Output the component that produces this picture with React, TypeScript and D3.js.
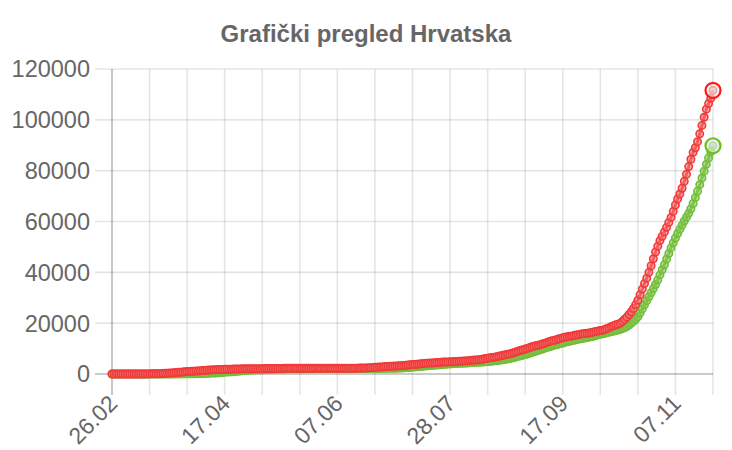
import React, { useRef, useEffect } from 'react';
import {
  select,
  scalePoint,
  scaleLinear,
  line,
  timeDay,
  timeFormat,
} from 'd3';

const title = 'Grafički pregled Hrvatska';

// one entry per day, 26.02.2020 - 24.11.2020
const startDay = new Date(2020, 1, 26);
const endDay = new Date(2020, 10, 25);

// ukupno zaraženi
const cases = [
  // feb
  3, 3, 5, 7,
  // mar
  7, 7, 9, 10, 10, 11, 12, 12, 12, 14, 19, 32, 38, 49, 57, 65, 81, 105, 128, 206, 254, 315, 382, 442, 495, 586, 657, 713, 790, 867, 963,
  // apr
  1011, 1079, 1126, 1182, 1222, 1282, 1343, 1407, 1495, 1534, 1600, 1650, 1704, 1741, 1791, 1814, 1832, 1871, 1881, 1908, 1950, 1981, 2009, 2016, 2030, 2039, 2047, 2062, 2076, 2085,
  // may
  2088, 2096, 2101, 2112, 2119, 2125, 2146, 2168, 2176, 2187, 2196, 2205, 2213, 2221, 2224, 2226, 2228, 2228, 2232, 2234, 2237, 2237, 2243, 2244, 2244, 2244, 2245, 2246, 2246, 2246, 2246,
  // jun
  2247, 2247, 2247, 2247, 2247, 2247, 2249, 2249, 2249, 2251, 2252, 2254, 2258, 2269, 2280, 2299, 2317, 2336, 2366, 2388, 2420, 2483, 2534, 2634, 2691, 2725, 2777, 2831, 2912, 2966,
  // jul
  3008, 3060, 3126, 3151, 3220, 3272, 3325, 3416, 3533, 3672, 3722, 3775, 3827, 3953, 4039, 4121, 4185, 4252, 4298, 4345, 4422, 4494, 4570, 4634, 4682, 4715, 4746, 4792, 4838, 4881, 4949,
  // aug
  4995, 5017, 5073, 5138, 5224, 5314, 5376, 5466, 5508, 5587, 5728, 5880, 6058, 6239, 6420, 6516, 6571, 6753, 6948, 7145, 7353, 7541, 7732, 7900, 8150, 8420, 8710, 9020, 9300, 9560, 9800,
  // sep
  10080, 10390, 10700, 10960, 11220, 11360, 11590, 11900, 12140, 12460, 12800, 13040, 13150, 13470, 13760, 14000, 14250, 14480, 14690, 14840, 14900, 15100, 15300, 15480, 15670, 15820, 15940, 15990, 16120, 16340,
  // oct
  16550, 16730, 16930, 17110, 17200, 17520, 17880, 18240, 18640, 19000, 19370, 19540, 20000, 20730, 21540, 22400, 23400, 24500, 25800, 27300, 29000, 31200, 33400, 35600, 37700, 40000, 42600, 45300, 48000, 50300, 52500,
  // nov
  54200, 55900, 57700, 59600, 61600, 64000, 66500, 68900, 70800, 73100, 75800, 78600, 81600, 84500, 87200, 89000, 91400, 94500, 97800, 101000, 104200, 106400, 108500, 111600,
];

// izliječeni
const recovered = [
  // feb
  0, 0, 0, 0,
  // mar
  0, 0, 0, 0, 0, 0, 0, 0, 0, 1, 1, 1, 1, 1, 1, 2, 5, 5, 5, 5, 5, 5, 5, 16, 16, 22, 32, 45, 52, 67, 71,
  // apr
  73, 84, 100, 125, 125, 131, 156, 197, 228, 300, 347, 394, 414, 496, 536, 588, 717, 798, 822, 864, 924, 1015, 1101, 1175, 1235, 1325, 1402, 1468, 1533, 1582,
  // may
  1608, 1655, 1693, 1721, 1741, 1773, 1807, 1847, 1870, 1901, 1933, 1957, 1982, 1986, 2006, 2025, 2042, 2046, 2063, 2073, 2082, 2086, 2087, 2090, 2100, 2108, 2111, 2117, 2120, 2124, 2126,
  // jun
  2129, 2135, 2138, 2140, 2141, 2142, 2143, 2143, 2144, 2146, 2148, 2151, 2152, 2154, 2155, 2156, 2156, 2157, 2157, 2161, 2163, 2165, 2169, 2174, 2179, 2186, 2193, 2198, 2210, 2227,
  // jul
  2235, 2248, 2269, 2291, 2320, 2370, 2423, 2470, 2530, 2600, 2680, 2750, 2810, 2900, 2990, 3080, 3180, 3260, 3340, 3420, 3480, 3560, 3640, 3710, 3780, 3850, 3910, 3970, 4030, 4090, 4130,
  // aug
  4170, 4200, 4240, 4290, 4340, 4400, 4460, 4520, 4570, 4620, 4680, 4740, 4810, 4880, 4960, 5050, 5140, 5240, 5340, 5460, 5600, 5760, 5930, 6110, 6300, 6500, 6720, 6950, 7180, 7420, 7650,
  // sep
  7900, 8170, 8450, 8740, 9040, 9320, 9590, 9880, 10170, 10460, 10740, 11000, 11250, 11500, 11740, 11980, 12200, 12420, 12640, 12850, 13060, 13260, 13450, 13640, 13830, 14010, 14180, 14340, 14500, 14660,
  // oct
  14900, 15150, 15400, 15650, 15850, 16050, 16250, 16450, 16650, 16850, 17050, 17300, 17550, 17850, 18200, 18700, 19300, 20000, 20700, 21500, 22500, 24000, 25600, 27200, 28800, 30400, 32000, 33600, 35200, 37000, 39000,
  // nov
  41000, 43000, 45200, 47400, 49600, 51600, 53500, 55300, 57000, 58600, 60200, 61700, 63200, 65000, 67100, 69400, 71900, 74500, 77100, 79800, 82500, 85000, 87400, 89800,
];

const yTicks = [0, 20000, 40000, 60000, 80000, 100000, 120000];

const FONT = '"Liberation Sans", Arial, Helvetica, sans-serif';

const App = () => {
  const svgRef = useRef(null);

  useEffect(() => {
    const svg = select(svgRef.current);
    svg.selectAll('*').remove();

    const fmt = timeFormat('%d.%m');
    const labels = timeDay.range(startDay, endDay).map((d) => fmt(d));

    const left = 112;
    const right = 713;
    const top = 69;
    const bottom = 374;

    const x = scalePoint().domain(labels).range([left, right]);
    const y = scaleLinear().domain([0, 120000]).range([bottom, top]);

    // title
    svg
      .append('text')
      .attr('x', 366)
      .attr('y', 42)
      .attr('text-anchor', 'middle')
      .attr('font-family', FONT)
      .attr('font-weight', 'bold')
      .attr('font-size', 24)
      .attr('fill', '#666')
      .text(title);

    // horizontal grid + y labels
    const yg = svg.append('g');
    yTicks.forEach((t) => {
      yg.append('line')
        .attr('x1', left - 17)
        .attr('x2', right)
        .attr('y1', y(t))
        .attr('y2', y(t))
        .attr('stroke', t === 0 ? 'rgba(0,0,0,0.28)' : 'rgba(0,0,0,0.1)')
        .attr('stroke-width', 1.6);
      yg.append('text')
        .attr('x', 90)
        .attr('y', y(t))
        .attr('dy', '0.36em')
        .attr('text-anchor', 'end')
        .attr('font-family', FONT)
        .attr('font-size', 23.5)
        .attr('fill', '#666')
        .text(t);
    });

    // vertical grid every 17 days, labels every 51 days
    const xg = svg.append('g');
    labels.forEach((lab, i) => {
      if (i % 17 !== 0) return;
      xg.append('line')
        .attr('x1', x(lab))
        .attr('x2', x(lab))
        .attr('y1', top)
        .attr('y2', bottom + 21)
        .attr('stroke', i === 0 ? 'rgba(0,0,0,0.28)' : 'rgba(0,0,0,0.1)')
        .attr('stroke-width', 1.6);
      if (i % 51 === 0) {
        xg.append('text')
          .attr('transform', `translate(${x(lab) + 1},${bottom + 25}) rotate(-45)`)
          .attr('dy', '0.36em')
          .attr('text-anchor', 'end')
          .attr('font-family', FONT)
          .attr('font-size', 23)
          .attr('fill', '#666')
          .text(lab);
      }
    });

    const series = [
      { values: recovered, stroke: '#72bd3a', fill: 'rgba(140,200,90,0.6)', hover: '#66c21e' },
      { values: cases, stroke: '#f03a3a', fill: 'rgba(245,120,120,0.6)', hover: '#ff1a1a' },
    ];

    series.forEach((s) => {
      const path = line<number>()
        .x((d, i) => x(labels[i]) as number)
        .y((d) => y(d));

      svg
        .append('path')
        .attr('d', path(s.values))
        .attr('fill', 'none')
        .attr('stroke', s.stroke)
        .attr('stroke-width', 3);

      svg
        .append('g')
        .selectAll('circle')
        .data(s.values)
        .join('circle')
        .attr('cx', (d, i) => x(labels[i]) as number)
        .attr('cy', (d) => y(d))
        .attr('r', 3.7)
        .attr('fill', s.fill)
        .attr('stroke', s.stroke)
        .attr('stroke-width', 1.6);
    });

    // hovered last points
    series.forEach((s) => {
      const last = s.values.length - 1;
      svg
        .append('circle')
        .attr('cx', x(labels[last]) as number)
        .attr('cy', y(s.values[last]))
        .attr('r', 7.5)
        .attr('fill', 'rgba(235,235,235,0.6)')
        .attr('stroke', s.hover)
        .attr('stroke-width', 2.2);
    });
  }, []);

  return (
    <svg
      ref={svgRef}
      width={732}
      height={450}
      style={{ position: 'absolute', left: 0, top: 0, background: '#fff' }}
    />
  );
};

export default App;
